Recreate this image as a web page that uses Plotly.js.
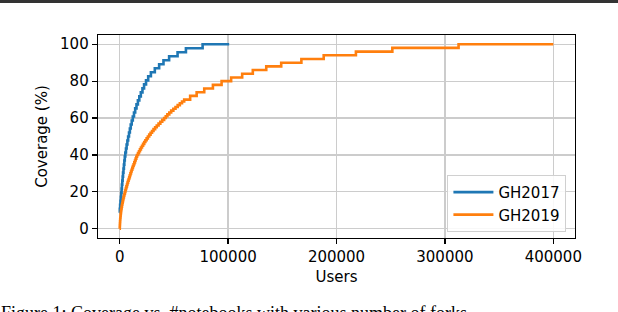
<!DOCTYPE html>
<html>
<head>
<meta charset="utf-8">
<script src="https://cdn.plot.ly/plotly-3.0.1.min.js"></script>
<style>
html,body{margin:0;padding:0;background:#fff;}
#chart{width:618px;height:312px;}
</style>
</head>
<body>
<div id="chart"></div>
<script>
// GH2017: users threshold at which each coverage level is reached (step chart)
const gh2017Users = [0, 100, 400, 750, 1100, 1450, 1750, 2050, 2400, 2750, 3100, 3500, 3900, 4300, 4700, 5200, 5800, 6400, 7100, 7800, 8600, 9400, 10200, 11100, 12100, 13200, 14300, 15500, 16800, 18100, 19500, 21000, 22500, 24300, 26300, 28800, 32400, 36400, 40400, 45600, 53400, 61100, 76500, 101000];
const gh2017Coverage = [8.70, 10.87, 13.04, 15.22, 17.39, 19.57, 21.74, 23.91, 26.09, 28.26, 30.43, 32.61, 34.78, 36.96, 39.13, 41.30, 43.48, 45.65, 47.83, 50.00, 52.17, 54.35, 56.52, 58.70, 60.87, 63.04, 65.22, 67.39, 69.57, 71.74, 73.91, 76.09, 78.26, 80.43, 82.61, 84.78, 86.96, 89.13, 91.30, 93.48, 95.65, 97.83, 100, 100];

// GH2019
const gh2019Users = [0, 60, 150, 250, 350, 470, 600, 750, 900, 1100, 1300, 1550, 1800, 2100, 2400, 2750, 3100, 3500, 3900, 4350, 4800, 5250, 5700, 6200, 6700, 7200, 7700, 8250, 8800, 9350, 9900, 10450, 11000, 11600, 12200, 12850, 13500, 14100, 14700, 15350, 16000, 16900, 17800, 18700, 19600, 20600, 21600, 22650, 23700, 24850, 26000, 27250, 28500, 29850, 31200, 32700, 34200, 35850, 37500, 39250, 41000, 42500, 44000, 45750, 47500, 49500, 51500, 53500, 55500, 57500, 59500, 65000, 71000, 78000, 86000, 94000, 102800, 113000, 122800, 135200, 149000, 167600, 188200, 217900, 251500, 312600, 400000];
const gh2019Coverage = [0, 1, 2, 3, 4, 5, 6, 7, 8, 9, 10, 11, 12, 13, 14, 15, 16, 17, 18, 19, 20, 21, 22, 23, 24, 25, 26, 27, 28, 29, 30, 31, 32, 33, 34, 35, 36, 37, 38, 39, 40, 41, 42, 43, 44, 45, 46, 47, 48, 49, 50, 51, 52, 53, 54, 55, 56, 57, 58, 59, 60, 61, 62, 63, 64, 65, 66, 67, 68, 69, 70, 72, 74, 76, 78, 80, 82, 84, 86, 88, 90, 92, 94, 96, 98, 100, 100];

const xTicks = [0, 100000, 200000, 300000, 400000];
const yTicks = [0, 20, 40, 60, 80, 100];
const captionText = "Figure 1: Coverage vs. #notebooks with various number of forks";

const font = {family: "DejaVu Sans, sans-serif", size: 15, color: "#000"};

const traces = [
  {x: gh2017Users, y: gh2017Coverage, name: "GH2017", type: "scatter", mode: "lines",
   line: {color: "#1f77b4", width: 2.6, shape: "hv"}},
  {x: gh2019Users, y: gh2019Coverage, name: "GH2019", type: "scatter", mode: "lines",
   line: {color: "#ff7f0e", width: 2.6, shape: "hv"}}
];

const axisCommon = {
  showline: true, mirror: true, linecolor: "#000", linewidth: 1.3,
  ticks: "outside", ticklen: 5, tickwidth: 1.2, tickcolor: "#000",
  showgrid: true, gridcolor: "#cccccc", gridwidth: 1.2,
  zeroline: false, tickfont: font
};

const layout = {
  width: 618, height: 312,
  margin: {l: 97.5, r: 43, t: 35, b: 74, pad: 0},
  paper_bgcolor: "#fff", plot_bgcolor: "#fff",
  font: font,
  showlegend: true,
  xaxis: Object.assign({}, axisCommon, {
    range: [-20000, 420000], tickvals: xTicks, ticktext: xTicks.map(String),
    title: {text: "Users", font: font, standoff: 6}
  }),
  yaxis: Object.assign({}, axisCommon, {
    range: [-5, 105], tickvals: yTicks, ticktext: yTicks.map(String),
    title: {text: "Coverage (%)", font: font, standoff: 8}
  }),
  legend: {
    x: 0.982, y: 0.03, xanchor: "right", yanchor: "bottom",
    bgcolor: "rgba(255,255,255,0.85)", bordercolor: "#d0d0d0", borderwidth: 1,
    font: font, tracegroupgap: 0, itemwidth: 40
  },
  shapes: [
    {type: "line", xref: "paper", yref: "paper", x0: -0.3, x1: 1.2, y0: 1.165, y1: 1.165,
     line: {color: "#333", width: 3}}
  ],
  annotations: [
    {text: captionText, xref: "paper", yref: "paper", x: -0.208, y: -0.31,
     xanchor: "left", yanchor: "top", showarrow: false,
     font: {family: "Liberation Serif, serif", size: 18, color: "#000"}}
  ]
};

Plotly.newPlot("chart", traces, layout, {displayModeBar: false, staticPlot: true});
</script>
</body>
</html>
